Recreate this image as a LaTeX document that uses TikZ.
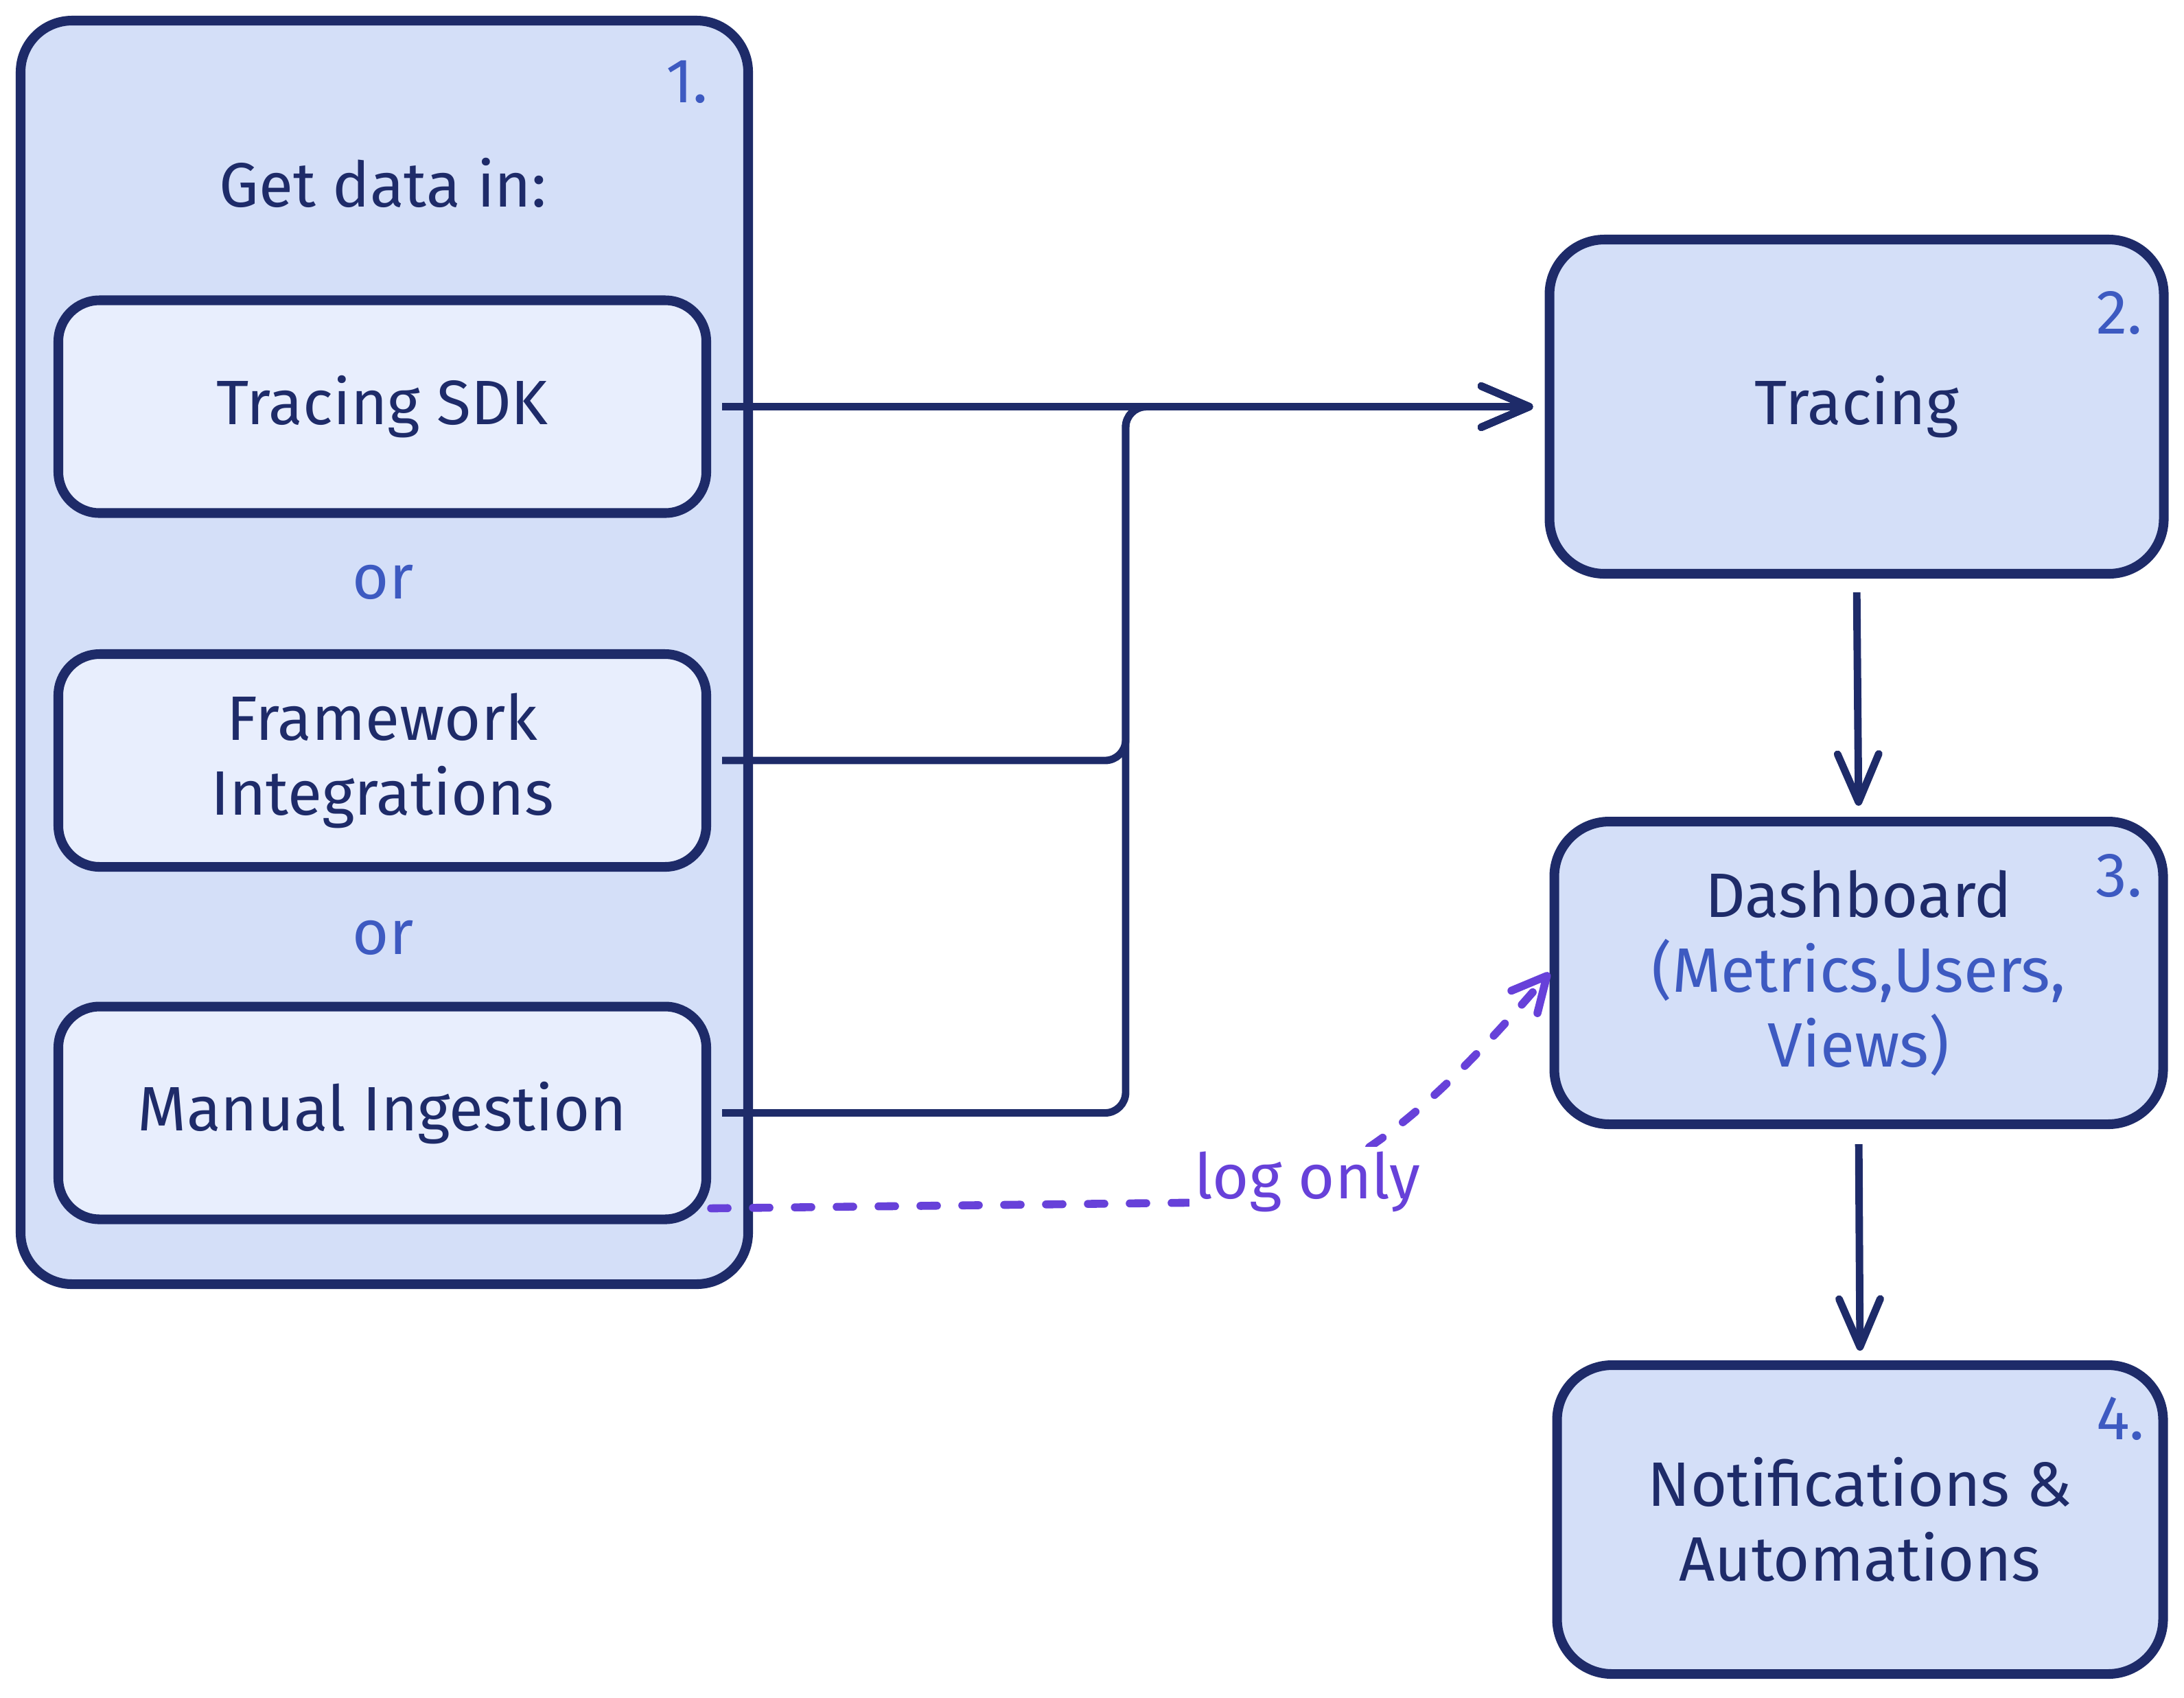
\documentclass[tikz,border=0pt]{standalone}
\usepackage{fontspec}
\setmainfont{Fira Sans}
\usetikzlibrary{arrows.meta}

\definecolor{navy}{HTML}{1E2B69}
\definecolor{groupfill}{HTML}{D4DFF8}
\definecolor{itemfill}{HTML}{E8EEFD}
\definecolor{stepblue}{HTML}{3D5AC1}
\definecolor{logviolet}{HTML}{6741D9}

\begin{document}
\begin{tikzpicture}[
  every node/.style={font=\fontsize{26}{31}\selectfont, text=navy},
  groupbox/.style={draw=navy, line width=4pt, fill=groupfill, rounded corners=0.75cm},
  srcbox/.style={draw=navy, line width=4pt, fill=itemfill, rounded corners=0.6cm,
    minimum width=9.44cm, minimum height=3.1cm, align=center},
  stagebox/.style={draw=navy, line width=4pt, fill=groupfill, rounded corners=0.8cm, align=center},
  stepnum/.style={text=stepblue},
  flowline/.style={draw=navy, line width=3.1pt, rounded corners=0.3cm,
    -{Straight Barb[length=7mm,width=6mm,round]}},
  logline/.style={draw=logviolet, line width=3.3pt, dash pattern=on 2.4mm off 3.7mm, line cap=round,
    -{Straight Barb[length=5mm,width=5mm,round]}}
]
  \useasboundingbox (0,0) rectangle (31.82,-24.73);

  % Step 1: sources
  \node[groupbox, minimum width=10.6cm, minimum height=18.41cm] (datain) at (5.60,-9.505) {};
  \node[stepnum] (n1) at ([shift={(-0.96,-0.96)}]datain.north east) {1.};
  \node (getdata) at (5.58,-2.66) {Get data in:};
  \node[srcbox] (sdk) at (5.57,-5.925) {Tracing SDK};
  \node[text=stepblue] (or1) at (5.58,-8.48) {or};
  \node[srcbox] (framework) at (5.57,-11.08) {Framework\\Integrations};
  \node[text=stepblue] (or2) at (5.58,-13.66) {or};
  \node[srcbox] (manual) at (5.57,-16.215) {Manual Ingestion};

  % Steps 2-4
  \node[stagebox, minimum width=8.95cm, minimum height=4.87cm] (tracing) at (27.05,-5.925) {Tracing};
  \node[stepnum] (n2) at ([shift={(-0.72,-1.14)}]tracing.north east) {2.};
  \node[stagebox, minimum width=8.87cm, minimum height=4.41cm] (dashboard) at (27.08,-14.175)
    {Dashboard\\\textcolor{stepblue}{(Metrics,Users,}\\\textcolor{stepblue}{Views)}};
  \node[stepnum] (n3) at ([shift={(-0.71,-0.86)}]dashboard.north east) {3.};
  \node[stagebox, minimum width=8.83cm, minimum height=4.5cm] (notify) at (27.10,-22.14)
    {Notifications \&\\Automations};
  \node[stepnum] (n4) at ([shift={(-0.69,-0.85)}]notify.north east) {4.};

  % Connectors
  \coordinate (bus) at (16.40,-5.925);
  \draw[flowline, shorten <=0.16cm, shorten >=0.17cm] (sdk.east) -- (tracing.west);
  \draw[flowline, shorten <=0.16cm, shorten >=0.17cm] (framework.east) -| (bus) -- (tracing.west);
  \draw[flowline, shorten <=0.16cm, shorten >=0.17cm] (manual.east) -| (bus) -- (tracing.west);
  \draw[flowline, shorten <=0.2cm, shorten >=0.16cm] (tracing.south) -- (dashboard.north);
  \draw[flowline, shorten <=0.22cm, shorten >=0.14cm] (dashboard.south) -- (notify.north);

  % Log only path
  \draw[logline] ([yshift=0.23cm]manual.south east) -- (17.60,-17.52)
    .. controls (19.50,-17.50) and (21.00,-16.00) .. (dashboard.west);
  \node[fill=white, inner sep=2pt, text=logviolet] (logonly) at (19.05,-17.22) {log only};
\end{tikzpicture}
\end{document}
